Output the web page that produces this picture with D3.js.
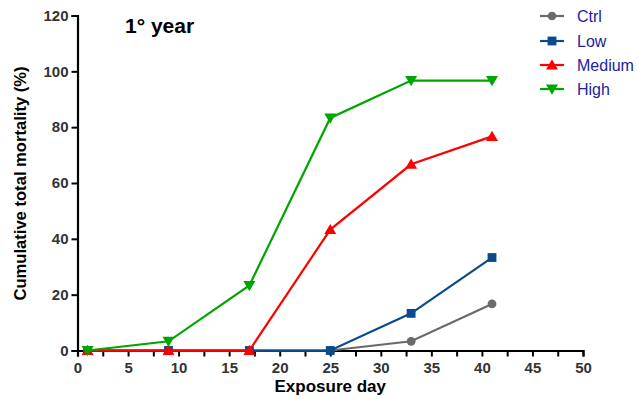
<!DOCTYPE html>
<html>
<head>
<meta charset="utf-8">
<script src="https://cdn.jsdelivr.net/npm/d3@7"></script>
<style>
html,body{margin:0;padding:0;background:#fff;}
svg{display:block;font-family:"Liberation Sans",Arial,sans-serif;}
</style>
</head>
<body>
<svg id="chart" width="638" height="403"></svg>
<script>
const days = [1, 9, 17, 25, 33, 41];
const seriesNames = ["Ctrl", "Low", "Medium", "High"];
const ctrl   = [0, 0, 0, 0, 3.3, 16.7];
const low    = [0, 0, 0, 0, 13.3, 33.3];
const medium = [0, 0, 0, 43.3, 66.7, 76.7];
const high   = [0, 3.3, 23.3, 83.3, 96.7, 96.7];
const xTicks = [0, 5, 10, 15, 20, 25, 30, 35, 40, 45, 50];
const xMinorTicks = [2.5, 7.5, 12.5, 17.5, 22.5, 27.5, 32.5, 37.5, 42.5, 47.5];
const yTicks = [0, 20, 40, 60, 80, 100, 120];

const colors = ["#6a6a6a", "#0a4a8c", "#ff0000", "#00a600"];
const shapes = [d3.symbolCircle, d3.symbolSquare, "up", "down"];
const values = [ctrl, low, medium, high];

const svg = d3.select("#chart");
const x = d3.scaleLinear().domain([0, 50]).range([77.5, 583]);
const y = d3.scaleLinear().domain([0, 120]).range([350.5, 15.5]);

// axes
const xAxis = svg.append("g").attr("transform", `translate(0,${y(0)})`)
  .call(d3.axisBottom(x).tickValues(xTicks).tickSize(6).tickPadding(4).tickFormat(d3.format("d")));
svg.append("g").attr("transform", `translate(0,${y(0)})`)
  .call(d3.axisBottom(x).tickValues(xMinorTicks).tickSize(6).tickFormat(""))
  .call(g => g.select(".domain").remove());
const yAxis = svg.append("g").attr("transform", `translate(${x(0)},0)`)
  .call(d3.axisLeft(y).tickValues(yTicks).tickSize(6).tickPadding(3).tickFormat(d3.format("d")));

svg.selectAll(".domain").attr("stroke", "#000").attr("stroke-width", 2.2);
svg.selectAll(".tick line").attr("stroke", "#000").attr("stroke-width", 2);
svg.selectAll(".tick text").attr("fill", "#333").attr("font-size", 15).attr("font-weight", "bold")
  .attr("font-family", "'Liberation Sans', Arial, sans-serif");
xAxis.selectAll(".tick text").attr("dy", "0.85em");

function triangle(down) {
  const s = 6;
  return down ? `M${-s},${-s*0.75}L${s},${-s*0.75}L0,${s*0.95}Z`
              : `M${-s},${s*0.75}L${s},${s*0.75}L0,${-s*0.95}Z`;
}
function symbolPath(i) {
  const sh = shapes[i];
  if (sh === "up") return triangle(false);
  if (sh === "down") return triangle(true);
  if (sh === d3.symbolSquare) return d3.symbol().type(sh).size(78)();
  return d3.symbol().type(sh).size(60)();
}

const line = d3.line().x((d, i) => x(days[i])).y(d => y(d));

values.forEach((vals, i) => {
  const g = svg.append("g");
  g.append("path").datum(vals).attr("d", line)
    .attr("fill", "none").attr("stroke", colors[i]).attr("stroke-width", 2.2);
  g.selectAll("path.pt").data(vals).enter().append("path")
    .attr("class", "pt")
    .attr("d", symbolPath(i))
    .attr("transform", (d, j) => `translate(${x(days[j])},${y(d)})`)
    .attr("fill", colors[i]);
});

// title
svg.append("text").attr("x", 125).attr("y", 33).attr("font-size", 21).attr("font-weight", "bold")
  .attr("fill", "#000").text("1° year");

// axis labels
svg.append("text").attr("x", (x(0) + x(50)) / 2).attr("y", 392).attr("text-anchor", "middle")
  .attr("font-size", 17).attr("font-weight", "bold").attr("fill", "#000").text("Exposure day");
svg.append("text").attr("transform", `translate(26,${(60 + 307) / 2}) rotate(-90)`)
  .attr("text-anchor", "middle").attr("font-size", 16.6).attr("font-weight", "bold")
  .attr("fill", "#000").text("Cumulative total mortality (%)");

// legend
const legY = [16, 41, 65, 89];
seriesNames.forEach((name, i) => {
  const g = svg.append("g").attr("transform", `translate(540,${legY[i]})`);
  g.append("line").attr("x1", 0).attr("x2", 24).attr("y1", 0).attr("y2", 0)
    .attr("stroke", colors[i]).attr("stroke-width", 2.2);
  g.append("path").attr("d", symbolPath(i)).attr("transform", "translate(12,0)").attr("fill", colors[i]);
  g.append("text").attr("x", 37).attr("y", 6).attr("font-size", 16).attr("fill", "#22229a").text(name);
});
</script>
</body>
</html>
